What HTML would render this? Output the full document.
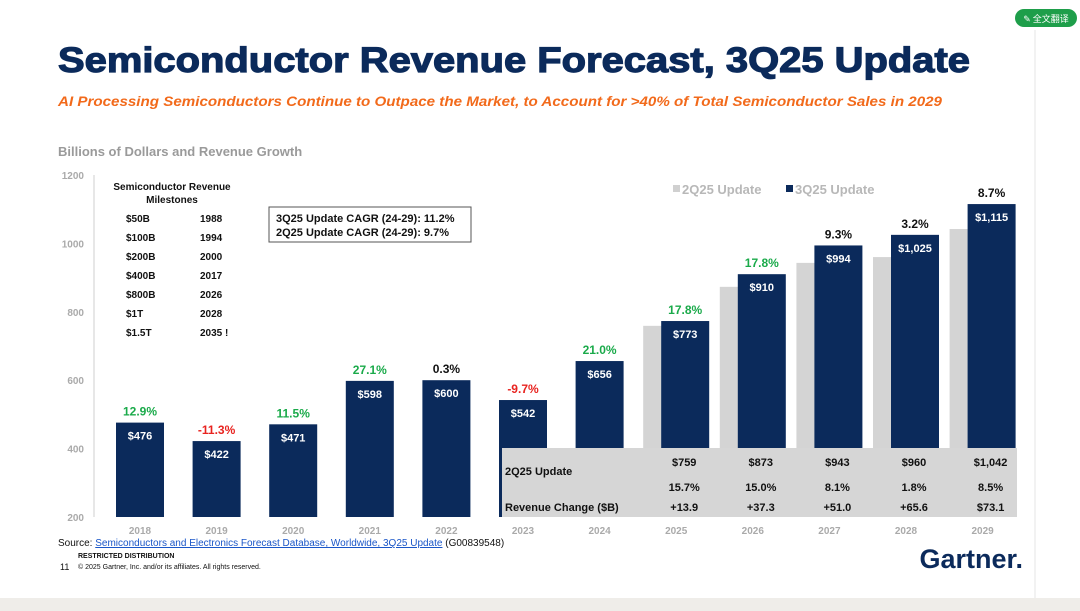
<!DOCTYPE html>
<html><head><meta charset="utf-8"><style>
body{margin:0;width:1080px;height:611px;background:#efede9;overflow:hidden;font-family:"Liberation Sans",Arial,sans-serif}
#slide{position:absolute;left:0;top:0;width:1080px;height:598px;background:#fff}
</style></head><body>
<div id="slide"></div>
<svg id="chart" width="1080" height="611" style="position:absolute;left:0;top:0" font-family="Liberation Sans, Arial, sans-serif">
<text x="58" y="72" font-size="35" font-weight="bold" fill="#0b2a5b" stroke="#0b2a5b" stroke-width="1.2" textLength="912" lengthAdjust="spacingAndGlyphs">Semiconductor Revenue Forecast, 3Q25 Update</text>
<text x="58" y="106" font-size="14" font-weight="bold" font-style="italic" fill="#f26a1b" textLength="884" lengthAdjust="spacingAndGlyphs">AI Processing Semiconductors Continue to Outpace the Market, to Account for &gt;40% of Total Semiconductor Sales in 2029</text>
<text x="58" y="156" font-size="13" font-weight="bold" fill="#9a9a9a">Billions of Dollars and Revenue Growth</text>
<line x1="94" y1="175" x2="94" y2="517" stroke="#cfcfcf"/>
<g id="ticks"></g>
<g id="bars"></g>
<g font-size="10" font-weight="bold" fill="#111">
<text x="172" y="190" text-anchor="middle">Semiconductor Revenue</text>
<text x="172" y="203" text-anchor="middle">Milestones</text>
<g id="miles"></g>
</g>
<rect x="269" y="207" width="202" height="35" fill="#fff" stroke="#555"/>
<text x="276" y="222" font-size="11" font-weight="bold" fill="#111">3Q25 Update CAGR (24-29): 11.2%</text>
<text x="276" y="236" font-size="11" font-weight="bold" fill="#111">2Q25 Update CAGR (24-29): 9.7%</text>
<rect x="673" y="185" width="7" height="7" fill="#d0d0d0"/>
<text x="682" y="194" font-size="13" font-weight="bold" fill="#b8b8b8">2Q25 Update</text>
<rect x="786" y="185" width="7" height="7" fill="#0b2a5b"/>
<text x="795" y="194" font-size="13" font-weight="bold" fill="#b8b8b8">3Q25 Update</text>
<rect x="502" y="448" width="515" height="69" fill="#d6d6d6"/>
<text x="505" y="475" font-size="11" font-weight="bold" fill="#111">2Q25 Update</text>
<text x="505" y="511" font-size="11" font-weight="bold" fill="#111">Revenue Change ($B)</text>
<g id="table"></g>
<text x="58" y="546" font-size="10" fill="#111">Source: <tspan fill="#1a56c8" text-decoration="underline">Semiconductors and Electronics Forecast Database, Worldwide, 3Q25 Update</tspan> (G00839548)</text>
<text x="78" y="558" font-size="7" font-weight="bold" fill="#111">RESTRICTED DISTRIBUTION</text>
<text x="60" y="570" font-size="9" fill="#111">11</text>
<text x="78" y="569" font-size="7" fill="#111">© 2025 Gartner, Inc. and/or its affiliates. All rights reserved.</text>
<text x="1023" y="568" font-size="27" font-weight="bold" fill="#0b2a5b" text-anchor="end">Gartner.</text>
<line x1="1035" y1="30" x2="1035" y2="598" stroke="#e4e4e4"/>
<rect x="1015" y="9" width="62" height="18" rx="9" fill="#1e9e4a"/>
<text x="1046" y="22" font-size="9" fill="#fff" text-anchor="middle" font-family="Noto Sans CJK SC, sans-serif">✎ 全文翻译</text>
</svg>
<script>
const years=["2018","2019","2020","2021","2022","2023","2024","2025","2026","2027","2028","2029"];
const rev3q=[476,422,471,598,600,542,656,773,910,994,1025,1115];
const growth=["12.9%","-11.3%","11.5%","27.1%","0.3%","-9.7%","21.0%","17.8%","17.8%","9.3%","3.2%","8.7%"];
const growthColor=["g","r","g","g","k","r","g","g","g","k","k","k"];
const rev2q=[null,null,null,null,null,null,null,759,873,943,960,1042];
const growth2q=["","","","","","","","15.7%","15.0%","8.1%","1.8%","8.5%"];
const change=["","","","","","","","+13.9","+37.3","+51.0","+65.6","$73.1"];
const yTicks=[200,400,600,800,1000,1200];
const milestones=[["$50B","1988"],["$100B","1994"],["$200B","2000"],["$400B","2017"],["$800B","2026"],["$1T","2028"],["$1.5T","2035 !"]];
const NS="http://www.w3.org/2000/svg";
const y=v=>517-(v-200)*0.342;
const xc=i=>140+i*76.6;
function mk(tag,at,parent,txt){const e=document.createElementNS(NS,tag);for(const k in at)e.setAttribute(k,at[k]);if(txt!==undefined)e.textContent=txt;parent.appendChild(e);return e;}
const T=document.getElementById('ticks'),B=document.getElementById('bars'),TB=document.getElementById('table'),M=document.getElementById('miles');
yTicks.forEach(t=>{const e=mk('text',{x:84,y:y(t)+4,'font-size':10,'font-weight':'bold',fill:'#aaa','text-anchor':'end'},T,t);

});
const cols={g:'#1aaa4a',r:'#e8231f',k:'#111'};
years.forEach((yr,i)=>{
 let c=xc(i),fc=rev2q[i]!==null,dx=fc?9:0,w=48;
 if(fc){const g=mk('rect',{x:c-9-w/2,y:y(rev2q[i]),width:w,height:517-y(rev2q[i]),fill:'#d4d4d4'},B);
 
 }
 const r=mk('rect',{x:c+dx-w/2,y:y(rev3q[i]),width:w,height:517-y(rev3q[i]),fill:'#0b2a5b'},B);
 
 
 const lv=mk('text',{x:c+dx,y:y(rev3q[i])+17,'font-size':11,'font-weight':'bold',fill:'#fff','text-anchor':'middle'},B,'$'+rev3q[i].toLocaleString('en-US'));
 
 
 const gl=mk('text',{x:c+dx,y:y(rev3q[i])-7,'font-size':12,'font-weight':'bold',fill:cols[growthColor[i]],'text-anchor':'middle'},B,growth[i]);
 
 
 const xl=mk('text',{x:c,y:534,'font-size':10,'font-weight':'bold',fill:'#aaa','text-anchor':'middle'},B,yr);
 
 
 if(fc){
  const a=mk('text',{x:c+8,y:466,'font-size':11,'font-weight':'bold',fill:'#111','text-anchor':'middle'},TB,'$'+rev2q[i].toLocaleString('en-US'));
  
  
  const b=mk('text',{x:c+8,y:491,'font-size':11,'font-weight':'bold',fill:'#111','text-anchor':'middle'},TB,growth2q[i]);
  
  
  const d=mk('text',{x:c+8,y:511,'font-size':11,'font-weight':'bold',fill:'#111','text-anchor':'middle'},TB,change[i]);
  
  
 }
});
milestones.forEach((m,i)=>{
 const a=mk('text',{x:126,y:222+i*19},M,m[0]);
 
 
 const b=mk('text',{x:200,y:222+i*19},M,m[1]);
 
 
});
</script>
</body></html>
